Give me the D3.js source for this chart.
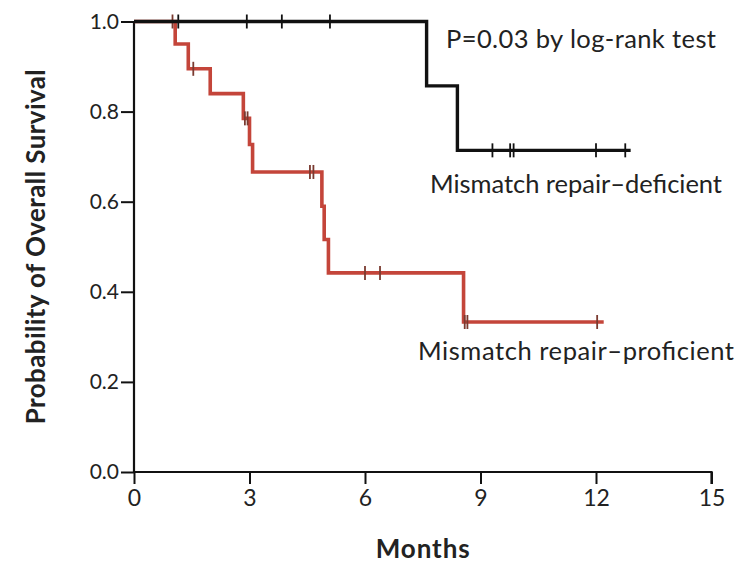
<!DOCTYPE html>
<html>
<head>
<meta charset="utf-8">
<script src="https://cdn.jsdelivr.net/npm/d3@7/dist/d3.min.js"></script>
<style>
  html, body { margin: 0; padding: 0; background: #fff; }
  svg { display: block; }
  text { font-family: Lato, "Open Sans", sans-serif; fill: #222; }
</style>
</head>
<body>
<svg id="chart" width="750" height="564"></svg>
<script>
// ---- Data ----
const xTicks = [0, 3, 6, 9, 12, 15];
const yTicks = [0.0, 0.2, 0.4, 0.6, 0.8, 1.0];

// Mismatch repair-deficient (black): step changes
const deficientTimes = [0, 7.6, 8.4, 12.9];
const deficientSurv  = [1.0, 0.857, 0.714, 0.714];
const deficientCensorTimes = [1.15, 2.93, 3.84, 5.09, 9.31, 9.77, 9.86, 12.0, 12.76];

// Mismatch repair-proficient (red): step changes
const proficientTimes = [0, 1.07, 1.41, 1.98, 2.84, 3.0, 3.08, 4.88, 4.94, 5.05, 8.56, 12.2];
const proficientSurv  = [1.0, 0.95, 0.895, 0.84, 0.785, 0.727, 0.666, 0.59, 0.516, 0.442, 0.333, 0.333];
const proficientCensorTimes = [1.0, 1.54, 2.88, 2.95, 4.57, 4.66, 6.0, 6.39, 8.59, 8.66, 12.03];

const seriesLabels = ["Mismatch repair\u2013deficient", "Mismatch repair\u2013proficient"];
const pValueText = "P=0.03 by log-rank test";

// ---- Chart ----
const svg = d3.select("#chart");
const x = d3.scaleLinear().domain([0, 15]).range([134, 711.5]);
const y = d3.scaleLinear().domain([0, 1]).range([472, 21.5]);

// axes
const xAxis = d3.axisBottom(x).tickValues(xTicks).tickSize(12).tickPadding(6).tickFormat(d3.format("d"));
const yAxis = d3.axisLeft(y).tickValues(yTicks).tickSize(13).tickPadding(2).tickFormat(d3.format(".1f"));

const gx = svg.append("g").attr("transform", `translate(0,${y(0)})`).call(xAxis);
const gy = svg.append("g").attr("transform", `translate(${x(0)},0)`).call(yAxis);
[gx, gy].forEach(g => {
  g.select(".domain").attr("stroke", "#111").attr("stroke-width", 2.2);
  g.selectAll(".tick line").attr("stroke", "#111").attr("stroke-width", 2);
  g.selectAll(".tick text").style("font-family", "Lato, 'Open Sans', sans-serif").attr("fill", "#222");
});
gx.selectAll(".tick text").style("font-size", "23px");
gy.selectAll(".tick text").style("font-size", "21px");
gx.select(".domain").attr("d", `M${x(0)},0H${x(15)}V12`);
gy.select(".domain").attr("d", `M0,${y(0)}V${y(1)}`);

// curves
function stepData(times, surv) { return times.map((t, i) => [t, surv[i]]); }
function survAt(times, surv, t) {
  let s = surv[0];
  for (let i = 0; i < times.length; i++) if (times[i] <= t) s = surv[i];
  return s;
}
const line = d3.line().x(d => x(d[0])).y(d => y(d[1])).curve(d3.curveStepAfter);

const series = [
  { times: proficientTimes, surv: proficientSurv, censor: proficientCensorTimes, color: "#c4453a", tick: "#7a3a30", width: 3.6 },
  { times: deficientTimes, surv: deficientSurv, censor: deficientCensorTimes, color: "#111", tick: "#111", width: 3.4 }
];

series.forEach(s => {
  svg.append("path")
    .datum(stepData(s.times, s.surv))
    .attr("d", line)
    .attr("fill", "none")
    .attr("stroke", s.color)
    .attr("stroke-width", s.width)
    .attr("stroke-linejoin", "miter")
    .attr("stroke-linecap", "butt");
  svg.append("g").selectAll("line")
    .data(s.censor)
    .join("line")
    .attr("x1", d => x(d)).attr("x2", d => x(d))
    .attr("y1", d => y(survAt(s.times, s.surv, d)) - 7)
    .attr("y2", d => y(survAt(s.times, s.surv, d)) + 7)
    .attr("stroke", s.tick)
    .attr("stroke-width", 1.8);
});

// annotations
svg.append("text").attr("x", 446).attr("y", 48).style("font-size", "25.5px").attr("textLength", 270).text(pValueText);
svg.append("text").attr("x", 430).attr("y", 193).style("font-size", "25.5px").attr("textLength", 292).text(seriesLabels[0]);
svg.append("text").attr("x", 418).attr("y", 360).style("font-size", "25.5px").attr("textLength", 316).text(seriesLabels[1]);

// axis titles
svg.append("text")
  .attr("x", x(7.5)).attr("y", 558)
  .attr("text-anchor", "middle")
  .style("font-size", "26px").style("font-weight", "bold")
  .attr("textLength", 94)
  .text("Months");
svg.append("text")
  .attr("transform", `translate(45,${y(0.5)}) rotate(-90)`)
  .attr("text-anchor", "middle")
  .style("font-size", "26px").style("font-weight", "bold")
  .attr("textLength", 355)
  .text("Probability of Overall Survival");
</script>
</body>
</html>
